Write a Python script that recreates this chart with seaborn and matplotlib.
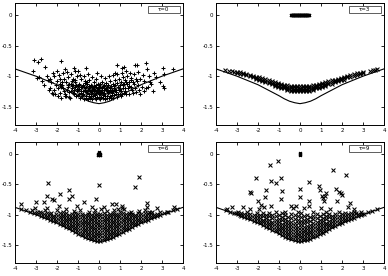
import matplotlib
matplotlib.use("Agg")
import matplotlib.pyplot as plt
import seaborn as sns
from matplotlib.patches import Rectangle

# ---------------- data ----------------
curve_x = [-4, -3.5, -3, -2.5, -2, -1.5, -1, -0.75, -0.5, -0.25, 0, 0.25, 0.5, 0.75, 1, 1.5, 2, 2.5, 3, 3.5, 4]
curve_y = [-0.88, -0.94, -1.00, -1.07, -1.14, -1.23, -1.32, -1.37, -1.41, -1.435, -1.45, -1.435, -1.41, -1.37, -1.32, -1.23, -1.14, -1.07, -1.00, -0.94, -0.88]

x_ticks = [-4, -3, -2, -1, 0, 1, 2, 3, 4]
y_ticks = [0, -0.5, -1, -1.5]
y_tick_labels = ["0", "-0.5", "-1", "-1.5"]
panel_labels = ["τ=0", "τ=3", "τ=6", "τ=9"]

# tau = 0 ('+' markers)
t0_x = [
    -3.08, -2.89, -2.74, -1.83, -3.16, -2.57, -2.84, -2.41, -2.36, -2.17, -1.80, -1.41,
    1.72, 2.23, 2.28, 3.07, 3.52, 3.10, 3.04, 3.10, 2.47, 2.56, 2.23, -1.02, -0.61, -0.10, 0.77, 1.09, 1.21, 0.85, 1.82,
    -2.95, -2.70, -2.60, -2.50, -2.20, -2.00, -1.60, -1.20, 2.70, 2.90, 2.60,
    -2.32, -2.27, -2.35, -2.25,
    -2.12, -2.05, -2.15, -2.08, -2.02,
    -1.92, -1.86, -1.95, -1.88, -1.84, -1.97,
    -1.72, -1.66, -1.75, -1.68, -1.64, -1.77, -1.70,
    -1.52, -1.46, -1.55, -1.48, -1.44, -1.57, -1.50, -1.53,
    -1.32, -1.26, -1.35, -1.28, -1.24, -1.37, -1.30, -1.33, -1.27,
    -1.12, -1.06, -1.15, -1.08, -1.04, -1.17, -1.10, -1.13, -1.07, -1.14,
    -0.92, -0.86, -0.95, -0.88, -0.84, -0.97, -0.90, -0.93, -0.87, -0.94,
    -0.72, -0.66, -0.75, -0.68, -0.64, -0.77, -0.70, -0.73, -0.67, -0.74, -0.69,
    -0.52, -0.46, -0.55, -0.48, -0.44, -0.57, -0.50, -0.53, -0.47, -0.54, -0.49, -0.56,
    -0.32, -0.26, -0.35, -0.28, -0.24, -0.37, -0.30, -0.33, -0.27, -0.34, -0.29, -0.36,
    -0.12, -0.06, -0.15, -0.08, -0.04, -0.17, -0.10, -0.13, -0.07, -0.14, -0.09, -0.16,
    0.08, 0.14, 0.05, 0.12, 0.16, 0.03, 0.10, 0.07, 0.13, 0.06, 0.11, 0.04,
    0.28, 0.34, 0.25, 0.32, 0.36, 0.23, 0.30, 0.27, 0.33, 0.26, 0.31, 0.24,
    0.48, 0.54, 0.45, 0.52, 0.56, 0.43, 0.50, 0.47, 0.53, 0.46, 0.51,
    0.68, 0.74, 0.65, 0.72, 0.76, 0.63, 0.70, 0.67, 0.73, 0.66,
    0.88, 0.94, 0.85, 0.92, 0.96, 0.83, 0.90, 0.87, 0.93,
    1.08, 1.14, 1.05, 1.12, 1.16, 1.03, 1.10, 1.07, 1.13,
    1.28, 1.34, 1.25, 1.32, 1.36, 1.23, 1.30, 1.27,
    1.48, 1.54, 1.45, 1.52, 1.56, 1.43, 1.50,
    1.68, 1.74, 1.65, 1.72, 1.76, 1.63,
    1.88, 1.94, 1.85, 1.92, 1.96,
    2.08, 2.14, 2.05, 2.12,
    2.38, 2.44, 2.35,
    -1.20, -1.00, -0.80, -0.60, -0.40, -0.20, 0.00, 0.20, 0.40, 0.60, 0.80, 1.00, 1.20,
    -1.18, -0.98, -0.78, -0.58, -0.38, -0.18, 0.02, 0.22, 0.42, 0.62, 0.82, 1.02, 1.22,
    -1.22, -1.02, -0.82, -0.62, -0.42, -0.22, -0.02, 0.18, 0.38, 0.58, 0.78, 0.98, 1.18,
    -0.61, -0.41, -0.21, -0.01, 0.19, 0.39, 0.59,
    -1.61, -1.41, -1.81, 1.41, 1.61, 1.81,
]
t0_y = [
    -0.74, -0.77, -0.71, -0.75, -0.91, -0.85, -1.02, -1.06, -1.22, -1.30, -1.35, -1.34,
    -0.81, -0.79, -0.89, -0.87, -0.89, -0.97, -1.16, -1.20, -1.13, -1.24, -1.20, -0.91, -0.87, -0.95, -0.95, -0.87, -0.85, -0.82, -0.82,
    -1.03, -1.08, -1.15, -1.00, -0.95, -0.92, -0.88, -0.86, -1.02, -1.10, -0.95,
    -1.20, -1.10, -1.05, -1.27,
    -1.00, -1.15, -1.22, -1.30, -1.08,
    -0.98, -1.12, -1.20, -1.28, -1.05, -1.33,
    -0.95, -1.05, -1.15, -1.25, -1.32, -1.10, -1.20,
    -0.93, -1.02, -1.10, -1.18, -1.26, -1.33, -1.14, -1.22,
    -0.97, -1.05, -1.12, -1.20, -1.28, -1.35, -1.08, -1.24, -1.16,
    -0.92, -1.00, -1.07, -1.14, -1.21, -1.27, -1.33, -1.18, -1.25, -1.10,
    -0.98, -1.05, -1.12, -1.18, -1.24, -1.30, -1.36, -1.15, -1.27, -1.21,
    -1.00, -1.08, -1.14, -1.20, -1.26, -1.31, -1.37, -1.17, -1.23, -1.29, -1.11,
    -0.97, -1.06, -1.13, -1.19, -1.24, -1.28, -1.33, -1.38, -1.16, -1.22, -1.30, -1.10,
    -1.02, -1.10, -1.16, -1.21, -1.25, -1.29, -1.33, -1.38, -1.19, -1.27, -1.23, -1.14,
    -1.05, -1.12, -1.18, -1.22, -1.26, -1.30, -1.34, -1.38, -1.20, -1.28, -1.24, -1.15,
    -0.99, -1.10, -1.17, -1.22, -1.26, -1.30, -1.34, -1.37, -1.20, -1.28, -1.24, -1.13,
    -1.03, -1.11, -1.16, -1.21, -1.25, -1.29, -1.33, -1.37, -1.19, -1.27, -1.23, -1.14,
    -1.00, -1.08, -1.15, -1.20, -1.24, -1.28, -1.32, -1.36, -1.18, -1.26, -1.22,
    -0.98, -1.06, -1.13, -1.19, -1.23, -1.27, -1.31, -1.35, -1.16, -1.25,
    -0.96, -1.04, -1.11, -1.17, -1.22, -1.26, -1.30, -1.34, -1.20,
    -0.94, -1.02, -1.09, -1.15, -1.20, -1.25, -1.29, -1.33, -1.12,
    -0.92, -1.00, -1.07, -1.13, -1.19, -1.24, -1.29, -1.10,
    -0.95, -1.03, -1.10, -1.17, -1.23, -1.30, -1.06,
    -0.97, -1.05, -1.12, -1.19, -1.26, -1.09,
    -0.93, -1.04, -1.14, -1.22, -1.30,
    -0.98, -1.08, -1.18, -1.25,
    -1.00, -1.10, -1.17,
    -1.30, -1.31, -1.32, -1.33, -1.32, -1.31, -1.30, -1.31, -1.32, -1.31, -1.30, -1.29, -1.27,
    -1.22, -1.23, -1.24, -1.25, -1.24, -1.23, -1.22, -1.23, -1.24, -1.23, -1.22, -1.21, -1.20,
    -1.15, -1.16, -1.17, -1.18, -1.17, -1.16, -1.15, -1.16, -1.17, -1.16, -1.15, -1.14, -1.13,
    -1.35, -1.36, -1.35, -1.36, -1.35, -1.36, -1.35,
    -1.29, -1.12, -1.18, -1.16, -1.27, -1.08,
]

# tau = 3 ('x' markers): narrow band + cluster at y = 0
t3_band_x = [-3.00, -2.85, -2.70, -2.55, -2.40, -2.25, -2.10, -1.95, -1.80, -1.65, -1.50, -1.35, -1.20, -1.05,
             -0.90, -0.75, -0.60, -0.45, -0.30, -0.15, 0.00, 0.15, 0.30, 0.45, 0.60, 0.75, 0.90, 1.05, 1.20,
             1.35, 1.50, 1.65, 1.80, 1.95, 2.10, 2.25, 2.40, 2.55, 2.70, 2.85, 3.00]
t3_band_y = [
    [-0.925, -0.945], [-0.935, -0.96], [-0.945, -0.97], [-0.96, -0.985], [-0.975, -1.00], [-0.99, -1.015],
    [-1.005, -1.03, -1.05], [-1.02, -1.045, -1.065], [-1.035, -1.06, -1.08], [-1.05, -1.075, -1.10],
    [-1.065, -1.09, -1.115], [-1.08, -1.105, -1.13], [-1.095, -1.12, -1.145, -1.16], [-1.11, -1.135, -1.16, -1.175],
    [-1.125, -1.15, -1.17, -1.19], [-1.14, -1.16, -1.18, -1.20], [-1.15, -1.17, -1.19, -1.21, -1.225],
    [-1.16, -1.18, -1.20, -1.22, -1.235], [-1.165, -1.185, -1.205, -1.225, -1.245], [-1.165, -1.185, -1.205, -1.23, -1.25],
    [-1.165, -1.19, -1.21, -1.23, -1.25], [-1.165, -1.185, -1.205, -1.23, -1.25], [-1.165, -1.185, -1.205, -1.225, -1.245],
    [-1.16, -1.18, -1.20, -1.22, -1.235], [-1.15, -1.17, -1.19, -1.21, -1.225], [-1.14, -1.16, -1.18, -1.20],
    [-1.125, -1.15, -1.17, -1.19], [-1.11, -1.135, -1.16, -1.175], [-1.095, -1.12, -1.145, -1.16],
    [-1.08, -1.105, -1.13], [-1.07, -1.095, -1.12], [-1.055, -1.08, -1.10], [-1.04, -1.065, -1.085],
    [-1.025, -1.05, -1.07], [-1.01, -1.035, -1.055], [-0.995, -1.02], [-0.98, -1.005], [-0.97, -0.99],
    [-0.955, -0.975], [-0.945, -0.965], [-0.935, -0.955],
]
t3_end_x = [-3.55, -3.38, -3.22, -3.12, 3.32, 3.48, 3.58, 3.68]
t3_end_y = [-0.90, -0.91, -0.92, -0.925, -0.915, -0.905, -0.895, -0.885]
t3_top_x = [-0.43, -0.415, -0.40, -0.385, -0.37, -0.355, -0.34, -0.325, -0.31, -0.295, -0.28, -0.265, -0.25,
            -0.235, -0.22, -0.205, -0.19, -0.175, -0.16, -0.145, -0.13, -0.115, -0.10, -0.085, -0.07, -0.055,
            -0.04, -0.025, -0.01, 0.005, 0.02, 0.035, 0.05, 0.065, 0.08, 0.095, 0.11, 0.125, 0.14, 0.155, 0.17,
            0.185, 0.20, 0.215, 0.23, 0.245, 0.26, 0.275, 0.29, 0.305, 0.32, 0.335, 0.35, 0.365, 0.38, 0.395,
            0.41, 0.425]
t3_top_y = [0.004, -0.004, 0.003, -0.003, 0.004, -0.004, 0.003, -0.003, 0.004, -0.004, 0.003, -0.003, 0.004,
            -0.004, 0.003, -0.003, 0.004, -0.004, 0.003, -0.003, 0.004, -0.004, 0.003, -0.003, 0.004, -0.004,
            0.003, -0.003, 0.004, -0.004, 0.003, -0.003, 0.004, -0.004, 0.003, -0.003, 0.004, -0.004, 0.003,
            -0.003, 0.004, -0.004, 0.003, -0.003, 0.004, -0.004, 0.003, -0.003, 0.004, -0.004, 0.003, -0.003,
            0.004, -0.004, 0.003, -0.003, 0.004, -0.004]

# tau = 6 ('x' markers)
t6_cols_x = [0.07, 0.22, 0.37, 0.52, 0.67, 0.82, 0.97, 1.12, 1.27, 1.42, 1.57, 1.72, 1.87, 2.02, 2.17, 2.32,
             2.47, 2.62, 2.77, 2.92, 3.10, 3.30, 3.50, 3.72,
             -0.08, -0.23, -0.38, -0.53, -0.68, -0.83, -0.98, -1.13, -1.28, -1.43, -1.58, -1.73, -1.88, -2.03,
             -2.18, -2.33, -2.48, -2.63, -2.78, -2.93, -3.10, -3.30, -3.50, -3.72]
t6_cols_y = [
    [-1.435, -1.39, -1.345, -1.30, -1.255, -1.21, -1.165, -1.12, -1.075, -1.03, -0.99],
    [-1.425, -1.38, -1.335, -1.29, -1.245, -1.20, -1.155, -1.11, -1.065, -1.02, -0.975],
    [-1.41, -1.365, -1.32, -1.275, -1.23, -1.185, -1.14, -1.095, -1.05, -1.005],
    [-1.39, -1.345, -1.30, -1.255, -1.21, -1.165, -1.12, -1.075, -1.03, -0.99],
    [-1.37, -1.325, -1.28, -1.235, -1.19, -1.145, -1.10, -1.055, -1.01, -0.97],
    [-1.345, -1.30, -1.255, -1.21, -1.165, -1.12, -1.075, -1.03, -0.99],
    [-1.315, -1.27, -1.225, -1.18, -1.135, -1.09, -1.045, -1.00],
    [-1.29, -1.245, -1.20, -1.155, -1.11, -1.065, -1.02, -0.98],
    [-1.26, -1.215, -1.17, -1.125, -1.08, -1.035, -0.995],
    [-1.23, -1.185, -1.14, -1.095, -1.05, -1.005, -0.97],
    [-1.205, -1.16, -1.115, -1.07, -1.025, -0.985],
    [-1.18, -1.135, -1.09, -1.045, -1.00],
    [-1.155, -1.11, -1.065, -1.02, -0.98],
    [-1.128, -1.083, -1.038, -0.995],
    [-1.108, -1.063, -1.018, -0.98],
    [-1.085, -1.04, -0.995],
    [-1.062, -1.017, -0.975],
    [-1.045, -1.00],
    [-1.025, -0.985],
    [-1.00, -0.965],
    [-0.978],
    [-0.952],
    [-0.928],
    [-0.905],
    [-1.433, -1.388, -1.343, -1.298, -1.253, -1.208, -1.163, -1.118, -1.073, -1.028, -0.985],
    [-1.423, -1.378, -1.333, -1.288, -1.243, -1.198, -1.153, -1.108, -1.063, -1.018, -0.98],
    [-1.408, -1.363, -1.318, -1.273, -1.228, -1.183, -1.138, -1.093, -1.048, -1.003],
    [-1.388, -1.343, -1.298, -1.253, -1.208, -1.163, -1.118, -1.073, -1.028, -0.985],
    [-1.368, -1.323, -1.278, -1.233, -1.188, -1.143, -1.098, -1.053, -1.008],
    [-1.343, -1.298, -1.253, -1.208, -1.163, -1.118, -1.073, -1.028, -0.985],
    [-1.313, -1.268, -1.223, -1.178, -1.133, -1.088, -1.043, -0.998],
    [-1.288, -1.243, -1.198, -1.153, -1.108, -1.063, -1.018, -0.975],
    [-1.258, -1.213, -1.168, -1.123, -1.078, -1.033, -0.99],
    [-1.228, -1.183, -1.138, -1.093, -1.048, -1.003],
    [-1.203, -1.158, -1.113, -1.068, -1.023, -0.98],
    [-1.178, -1.133, -1.088, -1.043, -1.00],
    [-1.153, -1.108, -1.063, -1.018, -0.975],
    [-1.126, -1.081, -1.036, -0.993],
    [-1.106, -1.061, -1.016],
    [-1.083, -1.038, -0.993],
    [-1.06, -1.015, -0.972],
    [-1.043, -0.998],
    [-1.023, -0.98],
    [-0.998, -0.96],
    [-0.976],
    [-0.95],
    [-0.926],
    [-0.903],
]
t6_out_x = [-2.44, -1.41, -1.27, -0.02, 1.89, 1.72, -2.50, -2.98, -2.63, -2.24, -2.16, -1.87, -1.44, -0.70, -0.13,
            0.61, 0.82, 1.09, 1.09, 2.28, 2.28, 2.76, -3.70, -3.06, -2.50, -1.92, -1.04, -0.33, 0.22, 2.36, 3.23, 3.55,
            -3.20, -2.80, -2.30, -2.00, -1.70, -1.20, -0.90, -0.50, -0.20, 0.10, 0.40, 0.70, 1.00, 1.20, 1.50, 1.90,
            2.20, 2.50, -1.55, -2.55, 0.90]
t6_out_y = [-0.47, -0.60, -0.70, -0.51, -0.38, -0.55, -0.70, -0.79, -0.79, -0.75, -0.76, -0.66, -0.75, -0.79, -0.75,
            -0.82, -0.83, -0.85, -0.89, -0.81, -0.87, -0.89, -0.82, -0.89, -0.89, -0.85, -0.86, -0.87, -0.87, -0.95, -0.95, -0.88,
            -0.93, -0.95, -0.97, -0.93, -0.96, -0.94, -0.92, -0.95, -0.93, -0.91, -0.94, -0.92, -0.95, -0.90, -0.96, -0.94,
            -0.92, -0.95, -0.91, -0.93, -0.90]
t6_top_x = [-0.05, -0.025, 0.00, 0.025, 0.05, -0.035, 0.00, 0.035, -0.015, 0.015, 0.00]
t6_top_y = [-0.012, -0.012, -0.012, -0.012, -0.012, 0.002, 0.002, 0.002, 0.016, 0.016, 0.030]

# tau = 9 ('x' markers)
t9_cols_x = [0.04, 0.19, 0.34, 0.49, 0.64, 0.79, 0.94, 1.09, 1.24, 1.39, 1.54, 1.69, 1.84, 1.99, 2.14, 2.29,
             2.44, 2.59, 2.74, 2.89, 3.05, 3.25, 3.45,
             -0.11, -0.26, -0.41, -0.56, -0.71, -0.86, -1.01, -1.16, -1.31, -1.46, -1.61, -1.76, -1.91, -2.06,
             -2.21, -2.36, -2.51, -2.66, -2.81, -2.96, -3.12, -3.32, -3.52]
t9_cols_y = [
    [-1.437, -1.392, -1.347, -1.302, -1.257, -1.21, -1.16, -1.10, -1.04, -0.98],
    [-1.428, -1.383, -1.338, -1.293, -1.248, -1.20, -1.145, -1.085, -1.02],
    [-1.415, -1.37, -1.325, -1.28, -1.235, -1.185, -1.13, -1.07, -1.005],
    [-1.398, -1.353, -1.308, -1.263, -1.215, -1.165, -1.105, -1.045],
    [-1.378, -1.333, -1.288, -1.243, -1.195, -1.14, -1.08, -1.02, -0.96],
    [-1.352, -1.307, -1.262, -1.217, -1.17, -1.115, -1.055, -0.995],
    [-1.322, -1.277, -1.232, -1.187, -1.14, -1.085, -1.025],
    [-1.297, -1.252, -1.207, -1.162, -1.11, -1.055, -0.995],
    [-1.268, -1.223, -1.178, -1.133, -1.08, -1.025, -0.965],
    [-1.238, -1.193, -1.148, -1.10, -1.045, -0.985],
    [-1.21, -1.165, -1.12, -1.07, -1.015],
    [-1.185, -1.14, -1.095, -1.045, -0.985],
    [-1.16, -1.115, -1.07, -1.02, -0.965],
    [-1.133, -1.088, -1.043, -0.99],
    [-1.112, -1.067, -1.022, -0.975],
    [-1.09, -1.045, -0.995],
    [-1.068, -1.023, -0.98],
    [-1.05, -1.005, -0.96],
    [-1.03, -0.985],
    [-1.005, -0.965],
    [-0.985],
    [-0.958],
    [-0.935],
    [-1.432, -1.387, -1.342, -1.297, -1.25, -1.20, -1.145, -1.085, -1.02, -0.965],
    [-1.422, -1.377, -1.332, -1.287, -1.24, -1.19, -1.135, -1.075, -1.01],
    [-1.407, -1.362, -1.317, -1.272, -1.225, -1.175, -1.12, -1.06, -0.995],
    [-1.388, -1.343, -1.298, -1.253, -1.205, -1.155, -1.10, -1.04],
    [-1.364, -1.319, -1.274, -1.229, -1.18, -1.125, -1.065, -1.005, -0.95],
    [-1.336, -1.291, -1.246, -1.20, -1.15, -1.095, -1.035, -0.975],
    [-1.307, -1.262, -1.217, -1.172, -1.12, -1.065, -1.005],
    [-1.279, -1.234, -1.189, -1.14, -1.085, -1.025, -0.965],
    [-1.252, -1.207, -1.162, -1.115, -1.06, -1.00],
    [-1.225, -1.18, -1.135, -1.085, -1.03, -0.975],
    [-1.198, -1.153, -1.108, -1.06, -1.005],
    [-1.171, -1.126, -1.081, -1.03, -0.975],
    [-1.144, -1.099, -1.054, -1.005],
    [-1.12, -1.075, -1.03, -0.98],
    [-1.099, -1.054, -1.005],
    [-1.078, -1.033, -0.985],
    [-1.057, -1.012, -0.965],
    [-1.036, -0.99],
    [-1.015, -0.975],
    [-0.994, -0.955],
    [-0.974],
    [-0.95],
    [-0.926],
]
t9_out_x = [-1.05, -1.44, -2.11, -1.37, -1.16, -0.89, -0.84, -2.38, -2.35, -1.63, -1.68, -1.87, -2.00, -0.92,
            -1.40, -1.94, 0.00, 0.00, 0.43, 0.43, 0.90, 0.95, 1.03, 1.11, 1.19, 1.14, 1.22, 1.59, 2.17, 1.70,
            1.86, 1.94, 1.98, 1.75, 2.37, 2.29, 1.43, 0.98, -3.46, -3.22, -2.70, -2.38, -1.71, -0.44, -0.32,
            -0.21, 0.19, 0.43, 2.57, 2.97, 3.68, 2.65, -3.06, -2.87]
t9_out_y = [-0.11, -0.18, -0.40, -0.45, -0.48, -0.40, -0.61, -0.62, -0.65, -0.59, -0.71, -0.84, -0.77, -0.74,
            -0.85, -0.91, -0.58, -0.71, -0.46, -0.77, -0.52, -0.60, -0.69, -0.72, -0.70, -0.78, -0.65, -0.27, -0.34, -0.58,
            -0.62, -0.65, -0.67, -0.77, -0.80, -0.87, -0.90, -0.89, -0.91, -0.88, -0.88, -0.91, -0.88, -0.85, -0.89,
            -0.85, -0.89, -0.85, -0.91, -0.99, -0.91, -0.98, -0.98, -1.00]
t9_top_x = [-0.015, 0.015, 0.00, 0.00]
t9_top_y = [0.000, 0.000, 0.010, -0.008]


def flatten_cols(cols_x, cols_y):
    xs, ys = [], []
    for cx, cy in zip(cols_x, cols_y):
        for v in cy:
            xs.append(cx)
            ys.append(v)
    return xs, ys


t3_bx, t3_by = flatten_cols(t3_band_x, t3_band_y)
t6_cx, t6_cy = flatten_cols(t6_cols_x, t6_cols_y)
t9_cx, t9_cy = flatten_cols(t9_cols_x, t9_cols_y)

# (main x, main y, marker, cluster x, cluster y)
panels = [
    (t0_x, t0_y, "+", [], []),
    (t3_bx + t3_end_x, t3_by + t3_end_y, "x", t3_top_x, t3_top_y),
    (t6_cx + t6_out_x, t6_cy + t6_out_y, "x", t6_top_x, t6_top_y),
    (t9_cx + t9_out_x, t9_cy + t9_out_y, "x", t9_top_x, t9_top_y),
]

# ---------------- drawing ----------------
sns.set_style("ticks")
plt.rcParams['font.family'] = ['DejaVu Sans']
plt.rcParams['axes.unicode_minus'] = False

W, H = 388, 276
fig = plt.figure(figsize=(W / 100, H / 100), dpi=100)
boxes = [(15, 3, 183, 125), (216, 3, 384, 125), (15, 142, 183, 263), (216, 142, 384, 263)]

for (px, py, mk, cx, cy), (x0, y0, x1, y1), lab in zip(panels, boxes, panel_labels):
    ax = fig.add_axes([x0 / W, 1 - y1 / H, (x1 - x0) / W, (y1 - y0) / H])
    sns.lineplot(x=curve_x, y=curve_y, ax=ax, color="black", linewidth=0.8, estimator=None, sort=True)
    sns.scatterplot(x=px, y=py, ax=ax, marker=mk, color="black", s=10 if mk == "+" else 8,
                    linewidth=0.75, legend=False)
    if cx:
        sns.scatterplot(x=cx, y=cy, ax=ax, marker=mk, color="black", s=4,
                        linewidth=1.0, legend=False)
    ax.set_xlim(-4, 4)
    ax.set_ylim(-1.8, 0.2)
    ax.set_xticks(x_ticks)
    ax.set_xticklabels([str(t) for t in x_ticks])
    ax.set_yticks(y_ticks)
    ax.set_yticklabels(y_tick_labels)
    ax.set_xlabel("")
    ax.set_ylabel("")
    ax.tick_params(direction="in", top=True, right=True, length=2.5, width=0.6,
                   labelsize=4, pad=2, colors="black")
    for sp in ax.spines.values():
        sp.set_linewidth(0.7)
        sp.set_color("black")
    ax.add_patch(Rectangle((0.79, 0.918), 0.19, 0.058, transform=ax.transAxes,
                           fill=False, linewidth=0.6, edgecolor="#444444"))
    ax.text(0.885, 0.947, lab, transform=ax.transAxes, fontsize=4,
            ha="center", va="center", color="black")

fig.savefig("out.png", dpi=100)
